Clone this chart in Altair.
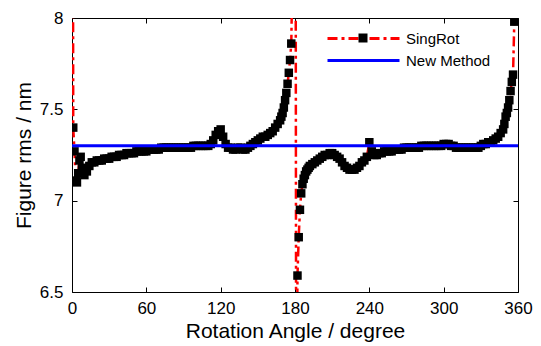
import altair as alt
import pandas as pd

FONT = "Liberation Sans"

# ---------------- data ----------------
angles_a = list(range(0, 11))
vals_a = [12.0, 7.40, 7.27, 7.11, 7.10, 7.15, 7.22, 7.24, 7.18, 7.15, 7.14]

angles_b = list(range(12, 169, 2))
vals_b = [7.16, 7.19, 7.21, 7.21, 7.22, 7.22, 7.22, 7.23, 7.23, 7.23,
          7.24, 7.24, 7.24, 7.25, 7.25, 7.25, 7.26, 7.26, 7.26, 7.26,
          7.27, 7.27, 7.27, 7.27, 7.27, 7.28, 7.28, 7.28, 7.28, 7.28,
          7.29, 7.29, 7.29, 7.29, 7.29, 7.29, 7.29, 7.29, 7.29, 7.29,
          7.29, 7.29, 7.29, 7.30, 7.30, 7.30, 7.30, 7.30, 7.30, 7.30,
          7.31, 7.33, 7.36, 7.38, 7.39, 7.35, 7.31, 7.29, 7.29, 7.28,
          7.28, 7.29, 7.29, 7.28, 7.28, 7.29, 7.30, 7.31, 7.32, 7.33,
          7.34, 7.35, 7.35, 7.36, 7.37, 7.38, 7.40, 7.42, 7.44]

angles_c = list(range(169, 192))
vals_c = [7.46, 7.48, 7.51, 7.55, 7.59, 7.64, 7.70, 7.77, 7.86, 8.30,
          9.50, 12.0, 5.50, 6.59, 6.80, 6.95, 7.04, 7.09, 7.12, 7.14,
          7.16, 7.17, 7.18]

angles_d = list(range(192, 349, 2))
vals_d = [7.19, 7.20, 7.21, 7.22, 7.23, 7.24, 7.25, 7.25, 7.26, 7.26,
          7.25, 7.24, 7.23, 7.21, 7.19, 7.18, 7.17, 7.17, 7.17, 7.18,
          7.19, 7.21, 7.22, 7.24, 7.32, 7.27, 7.25, 7.25, 7.26, 7.26,
          7.27, 7.27, 7.27, 7.27, 7.28, 7.28, 7.28, 7.28, 7.29, 7.29,
          7.29, 7.29, 7.29, 7.29, 7.29, 7.30, 7.30, 7.30, 7.30, 7.30,
          7.30, 7.30, 7.30, 7.30, 7.31, 7.31, 7.31, 7.30, 7.30, 7.29,
          7.29, 7.29, 7.29, 7.29, 7.29, 7.29, 7.29, 7.29, 7.29, 7.30,
          7.31, 7.31, 7.32, 7.32, 7.33, 7.34, 7.35, 7.37, 7.39]

angles_e = list(range(349, 361))
vals_e = [7.42, 7.46, 7.48, 7.51, 7.55, 7.60, 7.65, 7.69, 7.98, 8.50,
          9.50, 12.0]

new_method_angles = [0, 360]
new_method_vals = [7.30, 7.30]

series_names = ["SingRot", "New Method"]
series_colors = ["#ff0000", "#0000ff"]
series_dashes = [[10, 4, 3, 4], [1, 0]]

x_ticks = [0, 60, 120, 180, 240, 300, 360]
y_ticks = [6.5, 7, 7.5, 8]

angles = angles_a + angles_b + angles_c + angles_d + angles_e
singrot = vals_a + vals_b + vals_c + vals_d + vals_e
assert len(angles) == len(singrot), (len(angles), len(singrot))

df_s = pd.DataFrame({"angle": angles, "rms": singrot, "series": "SingRot"})
df_n = pd.DataFrame({"angle": new_method_angles, "rms": new_method_vals,
                     "series": "New Method"})

# ---------------- layout ----------------
W, H = 446, 274

xscale = alt.Scale(domain=[0, 360], nice=False, zero=False)
yscale = alt.Scale(domain=[6.5, 8], nice=False, zero=False)
color_scale = alt.Scale(domain=series_names, range=series_colors)
dash_scale = alt.Scale(domain=series_names, range=series_dashes)

leg_lines = alt.Legend(orient="none", legendX=281, legendY=10, title=None,
                       symbolType="M-4,0H4", symbolSize=324,
                       symbolStrokeWidth=3, labelOffset=32,
                       labelFontSize=15, labelFont=FONT, labelColor="black",
                       padding=0, rowPadding=3)
leg_square = alt.Legend(orient="none", legendX=286, legendY=15, title=None,
                        symbolType="square", symbolSize=81,
                        symbolStrokeWidth=0, labelExpr="''", padding=0)

common = dict(grid=False, domain=False, labelFlush=False, labelOverlap=False)

ax_x_main = alt.Axis(orient="bottom", values=x_ticks, tickSize=0,
                     labelPadding=8, title="Rotation Angle / degree",
                     titlePadding=4, **common)
ax_y_main = alt.Axis(orient="left", values=y_ticks, format="~g", tickSize=0,
                     labelPadding=9, title="Figure rms / nm",
                     titlePadding=5, **common)
ax_x_inb = alt.Axis(orient="top", offset=-H, values=x_ticks, tickSize=5,
                    labels=False, title=None, **common)
ax_y_inl = alt.Axis(orient="right", offset=-W, values=y_ticks, tickSize=5,
                    labels=False, title=None, **common)
ax_x_int = alt.Axis(orient="bottom", offset=-H, values=x_ticks, tickSize=5,
                    labels=False, title=None, **common)
ax_y_inr = alt.Axis(orient="left", offset=-W, values=y_ticks, tickSize=5,
                    labels=False, title=None, **common)

line_s = alt.Chart(df_s).mark_line(clip=True, strokeWidth=2.5).encode(
    x=alt.X("angle:Q", scale=xscale, axis=ax_x_main),
    y=alt.Y("rms:Q", scale=yscale, axis=ax_y_main),
    color=alt.Color("series:N", scale=color_scale, legend=leg_lines),
    strokeDash=alt.StrokeDash("series:N", scale=dash_scale, legend=leg_lines),
    order="angle:Q",
)

pts = alt.Chart(df_s).mark_square(clip=True, size=72, opacity=1).encode(
    x=alt.X("angle:Q", scale=xscale, axis=ax_x_inb),
    y=alt.Y("rms:Q", scale=yscale, axis=ax_y_inl),
    fill=alt.Fill("series:N",
                  scale=alt.Scale(domain=["SingRot"], range=["black"]),
                  legend=leg_square),
)

line_n = alt.Chart(df_n).mark_line(clip=True, strokeWidth=3).encode(
    x=alt.X("angle:Q", scale=xscale, axis=ax_x_int),
    y=alt.Y("rms:Q", scale=yscale, axis=ax_y_inr),
    color=alt.Color("series:N", scale=color_scale, legend=leg_lines),
    strokeDash=alt.StrokeDash("series:N", scale=dash_scale, legend=leg_lines),
)

chart = alt.layer(line_s, pts, line_n).resolve_axis(
    x="independent", y="independent"
).properties(
    width=W, height=H,
    autosize=alt.AutoSizeParams(type="none"),
    padding={"left": 72, "top": 18, "right": 23, "bottom": 54},
    background="white",
).configure_view(
    stroke="black", strokeWidth=1
).configure_axis(
    labelFont=FONT, labelFontSize=17, labelColor="black",
    titleFont=FONT, titleFontSize=21, titleFontWeight="normal",
    titleColor="black", tickColor="black", tickWidth=1,
)

chart.save("out.html", embed_options={"renderer": "svg", "actions": False})
